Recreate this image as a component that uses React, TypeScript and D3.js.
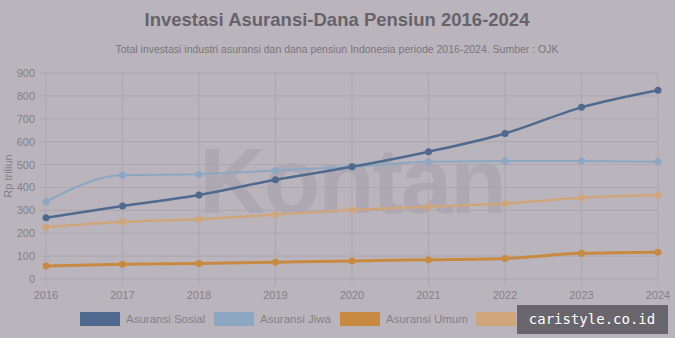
import React from "react";
import * as d3 from "d3";

const years = [2016, 2017, 2018, 2019, 2020, 2021, 2022, 2023, 2024];
const asuransiSosial = [268, 319, 367, 434, 490, 556, 636, 750, 825];
const asuransiJiwa = [338, 454, 458, 474, 490, 512, 515, 515, 512];
const asuransiUmum = [57, 64, 68, 73, 79, 84, 90, 112, 117];
const danaPensiun = [226, 250, 261, 281, 302, 316, 330, 355, 367];
const yTicks = [0, 100, 200, 300, 400, 500, 600, 700, 800, 900];
const seriesNames = ["Asuransi Sosial", "Asuransi Jiwa", "Asuransi Umum", "Dana Pensiun"];
const seriesColors = ["#4f6a8e", "#8ca7c1", "#c78a40", "#cfa67c"];
const seriesWidths = [2.5, 2, 3, 2.5];

const W = 675;
const H = 338;
const FONT = "'Liberation Sans', Arial, Helvetica, sans-serif";

export default function App() {
  const x = d3.scaleLinear().domain([2016, 2024]).range([46, 658]);
  const y = d3.scaleLinear().domain([0, 900]).range([279, 73]);
  const allSeries = [asuransiSosial, asuransiJiwa, asuransiUmum, danaPensiun];
  const line = d3
    .line<number>()
    .x((_, i) => x(years[i]))
    .y((d) => y(d))
    .curve(d3.curveMonotoneX);
  const drawOrder = [3, 2, 1, 0];
  const legendX = [80, 214, 340, 476];

  return (
    <svg
      width={W}
      height={H}
      style={{ position: "absolute", left: 0, top: 0, display: "block" }}
    >
      <rect x={0} y={0} width={W} height={H} fill="#bab5bc" />
      <text
        x={337}
        y={26}
        textAnchor="middle"
        fontFamily={FONT}
        fontWeight="bold"
        fontSize={18.5}
        fill="#67636a"
      >
        Investasi Asuransi-Dana Pensiun 2016-2024
      </text>
      <text
        x={337}
        y={53}
        textAnchor="middle"
        fontFamily={FONT}
        fontSize={10.5}
        fill="#79757c"
      >
        Total investasi industri asuransi dan dana pensiun Indonesia periode 2016-2024. Sumber : OJK
      </text>

      {/* grid */}
      {yTicks.map((t) => (
        <g key={"y" + t}>
          <line x1={40} x2={658} y1={y(t)} y2={y(t)} stroke="#aca7ae" strokeWidth={1} />
          <text
            x={35}
            y={y(t) + 4}
            textAnchor="end"
            fontFamily={FONT}
            fontSize={11}
            fill="#848087"
          >
            {t}
          </text>
        </g>
      ))}
      {years.map((yr) => (
        <g key={"x" + yr}>
          <line x1={x(yr)} x2={x(yr)} y1={73} y2={285} stroke="#aca7ae" strokeWidth={1} />
          <text
            x={x(yr)}
            y={299}
            textAnchor="middle"
            fontFamily={FONT}
            fontSize={11}
            fill="#848087"
          >
            {yr}
          </text>
        </g>
      ))}
      <text
        transform={`translate(12,176) rotate(-90)`}
        textAnchor="middle"
        fontFamily={FONT}
        fontSize={11}
        fill="#848087"
      >
        Rp triliun
      </text>

      {/* watermark */}
      <text
        x={352}
        y={213}
        textAnchor="middle"
        fontFamily={FONT}
        fontSize={92}
        fontWeight="bold"
        fill="#aaa6b0"
        opacity={0.8}
        letterSpacing={-2}
      >
        Kontan
      </text>

      {drawOrder.map((si) => (
        <g key={"s" + si}>
          <path
            d={line(allSeries[si]) || ""}
            fill="none"
            stroke={seriesColors[si]}
            strokeWidth={seriesWidths[si]}
          />
          {allSeries[si].map((v, i) => (
            <circle key={i} cx={x(years[i])} cy={y(v)} r={3.5} fill={seriesColors[si]} />
          ))}
        </g>
      ))}

      {/* legend */}
      {seriesNames.map((n, i) => (
        <g key={"l" + i}>
          <rect x={legendX[i]} y={312} width={40} height={14} fill={seriesColors[i]} />
          <text
            x={legendX[i] + 46}
            y={323}
            fontFamily={FONT}
            fontSize={11.5}
            fill="#848087"
          >
            {n}
          </text>
        </g>
      ))}

      {/* badge */}
      <rect x={517} y={305} width={151} height={29} fill="#69656c" />
      <text
        x={592}
        y={324}
        textAnchor="middle"
        fontFamily="'DejaVu Sans Mono', monospace"
        fontSize={14}
        fill="#ffffff"
      >
        caristyle.co.id
      </text>
    </svg>
  );
}
